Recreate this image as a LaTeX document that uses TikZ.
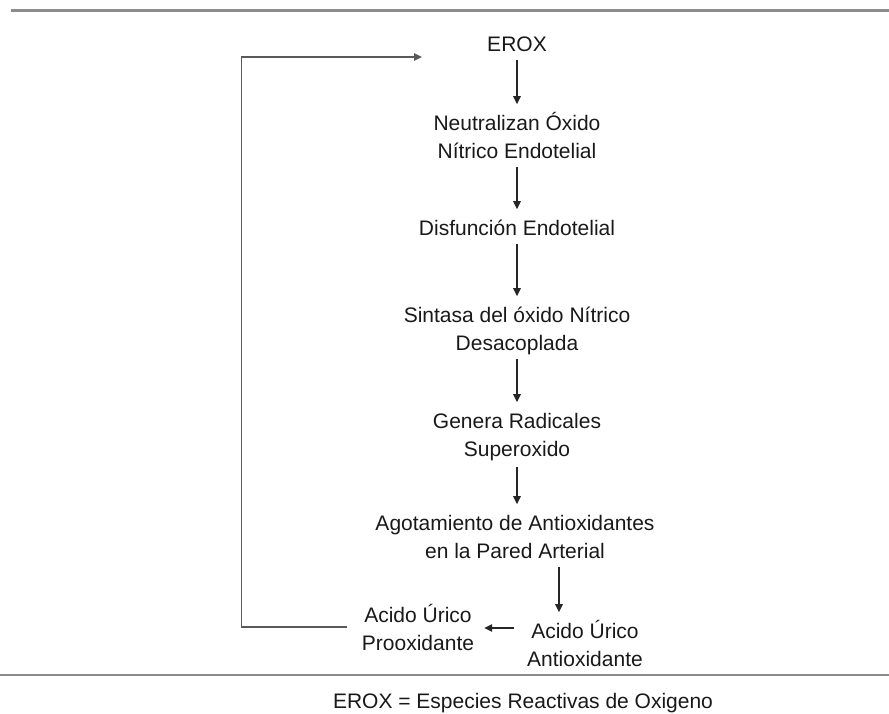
\documentclass[tikz,border=0pt]{standalone}
\usepackage{fontspec}
\setmainfont{Liberation Sans}
\usetikzlibrary{arrows.meta}
\newcommand{\lns}[1]{\begin{tabular}[t]{@{}c@{}}#1\end{tabular}}
\begin{document}
\begin{tikzpicture}[x=1pt,y=-1pt,
  txt/.style={inner sep=0pt, anchor=base, font=\fontsize{21}{28}\selectfont, text=black!90},
  tip/.style={-{Triangle[length=8pt,width=7.5pt]}},
  arr/.style={draw=black!85, line width=1.2pt, tip, shorten >=6pt},
  back/.style={draw=black!65, line width=1.4pt, tip},
  rulebar/.style={draw=black!45, line width=2.5pt}]
\useasboundingbox (0,0) rectangle (889,713);
\draw[rulebar] (11,10.5) -- (889,10.5);
\draw[rulebar, line width=2pt] (0,675) -- (889,675);

\node[txt] (erox) at (517,51) {\lns{EROX}};
\node[txt] (neu) at (517,130) {\lns{Neutralizan Óxido\\Nítrico Endotelial}};
\node[txt] (dis) at (517,235) {\lns{Disfunción Endotelial}};
\node[txt] (sin) at (517,322) {\lns{Sintasa del óxido Nítrico\\Desacoplada}};
\node[txt] (gen) at (517,428) {\lns{Genera Radicales\\Superoxido}};
\node[txt] (ago) at (515,530) {\lns{Agotamiento de Antioxidantes\\en la Pared Arterial}};
\node[txt] (aur) at (585,638) {\lns{Acido Úrico\\Antioxidante}};
\node[txt] (alo) at (418,622) {\lns{Acido Úrico\\Prooxidante}};
\node[txt] (foot) at (523,708) {\lns{EROX = Especies Reactivas de Oxigeno}};

\draw[arr] (erox.south) -- (neu.north);
\draw[arr] (neu.south) -- (dis.north);
\draw[arr] (dis.south) -- (sin.north);
\draw[arr] (sin.south) -- (gen.north);
\draw[arr, shorten <=2pt] (gen.south) -- (gen.south |- ago.north);
\draw[arr] ([xshift=44pt]ago.south) -- ([xshift=44pt]ago.south |- aur.north);
\draw[arr, shorten <=13pt, shorten >=10pt] ([yshift=10pt]aur.base west) -- ([yshift=10pt]aur.base west -| alo.east);
\draw[back, shorten <=15pt, shorten >=65pt] ([yshift=-5pt]alo.base west) -- ++(-120,0) |- ([yshift=-6pt]erox.base west);
\end{tikzpicture}
\end{document}
